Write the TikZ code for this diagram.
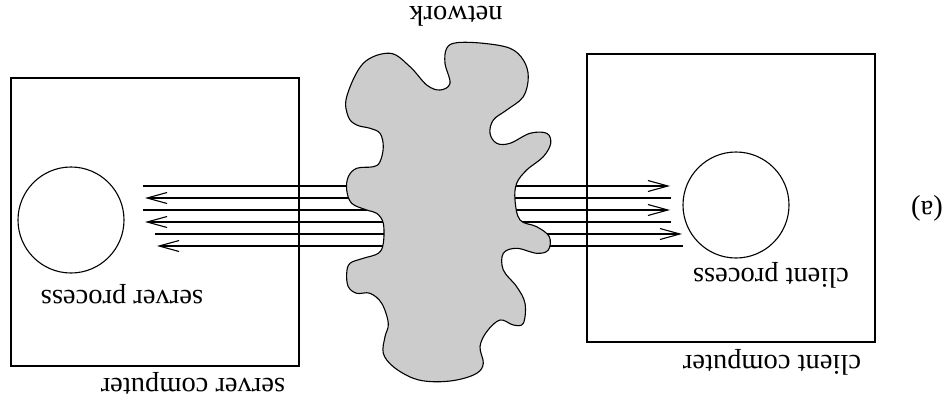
\documentclass[tikz,border=0pt]{standalone}
\usepackage{fontspec}
\setmainfont{Liberation Serif}
\usetikzlibrary{arrows.meta}
\definecolor{cloudgray}{RGB}{204,204,204}
\tikzset{
  boxshape/.style={draw, line width=1.1pt, minimum width=288pt, minimum height=288pt, inner sep=0pt},
  procshape/.style={draw, circle, line width=1.1pt, minimum size=106pt, inner sep=0pt},
  msg/.style={line width=1.1pt, -{Straight Barb[length=20pt,width=11pt,line width=1.1pt]}},
  lbl/.style={font=\fontsize{28.5}{34}\selectfont, rotate=180, anchor=base, inner sep=0pt},
}
\begin{document}
\begin{tikzpicture}[x=1pt,y=-1pt]
\useasboundingbox (0,0) rectangle (949,404);
% boxes
\node[boxshape] (server) at (155,222) {};
\node[boxshape] (client) at (731,198) {};
% processes
\node[procshape] (sproc) at (71,220) {};
\node[procshape] (cproc) at (736,205) {};
% message end points
\coordinate (l1) at (143,186); \coordinate (r1) at (670,186);
\coordinate (r2) at (671,198); \coordinate (l2) at (145,198);
\coordinate (l3) at (143,210); \coordinate (r3) at (670,210);
\coordinate (r4) at (671,222); \coordinate (l4) at (145,222);
\coordinate (l5) at (155,234); \coordinate (r5) at (682,234);
\coordinate (r6) at (683,246); \coordinate (l6) at (157,246);
\draw[msg] (l1) -- (r1);
\draw[msg] (r2) -- (l2);
\draw[msg] (l3) -- (r3);
\draw[msg] (r4) -- (l4);
\draw[msg] (l5) -- (r5);
\draw[msg] (r6) -- (l6);
% network cloud
\draw[line width=1.1pt, fill=cloudgray] plot[smooth cycle, tension=0.6] coordinates {
(346.7,96.7) (363.3,63.3) (390,53.3) (410,66.7) (426.7,85) (440,90) (450,83.3)
(445,63.3) (446.7,48.3) (456.7,42.7) (483.3,43.3) (510,48.3) (523.3,60) (528.3,76.7)
(523.3,96.7) (506.7,110) (493.3,120) (490,133.3) (496.7,143.3) (510,143.3) (530,133.3)
(546.7,133.3) (550.7,143.3) (543.3,156.7) (526.7,170) (516.7,183.3) (515,200) (520,220)
(536.7,226.7) (549.3,236.7) (548.3,250) (536.7,253.3) (516.7,248.3) (503.3,253.3)
(503.3,270) (516.7,286.7) (525,303.3) (523.3,323.3) (513.3,325) (500,320) (486.7,331.7)
(480,346.7) (483.3,363.3) (476.7,373.3) (456.7,380) (433.3,381.7) (413.3,378.3)
(393.3,366.7) (383.3,353.3) (385,336.7) (388.3,323.3) (381.7,303.3) (370,293.3)
(356.7,293.3) (348.3,286.7) (346.7,273.3) (350,263.3) (363.3,258.3) (378.3,253.3)
(383.3,243.3) (383.3,223.3) (376.7,213.3) (366.7,210) (351.7,203.3) (346.7,190)
(348.3,176.7) (356.7,168.3) (373.3,166.7) (380,161.7) (383.3,146.7) (380,133.3)
(370,128.3) (356.7,125) (348.3,116.7)};
% labels
\node[lbl] (tserver) at (193,378) {server computer};
\node[lbl] (tclient) at (772,355) {client computer};
\node[lbl] (tsproc) at (122,290) {server process};
\node[lbl] (tcproc) at (771,268) {client process};
\node[lbl] (tnet) at (456,7) {network};
\node[lbl] (tfig) at (927,201) {(a)};
\end{tikzpicture}
\end{document}
